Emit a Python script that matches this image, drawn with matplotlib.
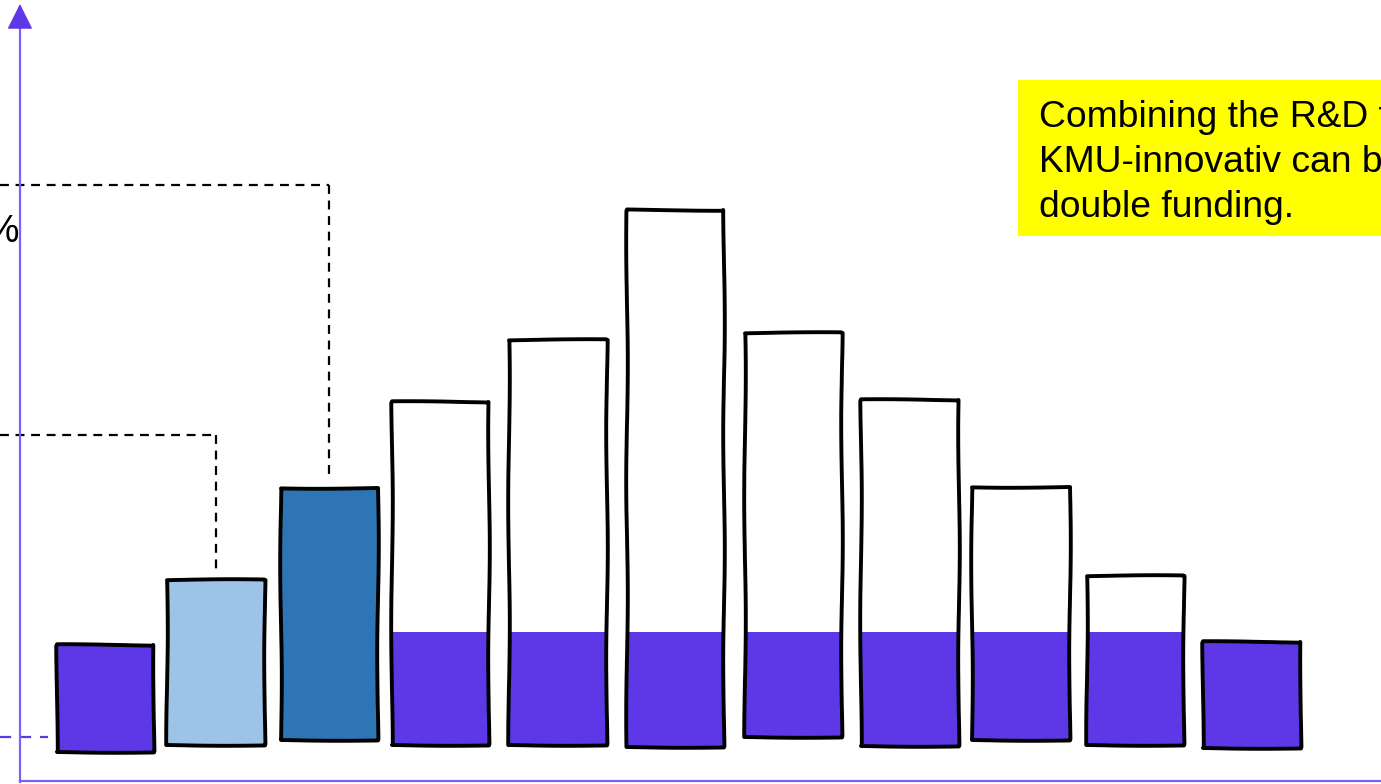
import matplotlib
matplotlib.use("Agg")
import matplotlib.pyplot as plt
from matplotlib.patches import Rectangle
import numpy as np

# ---- data (arbitrary units above the drawn baseline) ----
categories = list(range(11))
x_jitter = [0.0, -0.035, -0.048, -0.078, -0.052, -0.026, 0.0, 0.017, -0.013, -0.017, 0.0]
bar_tops = [100, 165, 257, 343, 405, 535, 412, 345, 258, 169, 103]
bar_bottoms = [-7, 0, 5, 0, 0, -2, 8, -1, 5, 0, -3]
fill_level = 113  # purple share inside the white bars
bar_kinds = ["full", "light", "dark", "split", "split", "split", "split",
             "split", "split", "split", "full"]
ref_levels = [560, 310]      # dashed guide levels
ref_bars = [2, 1]            # bars the guides drop to
percent_label = "%"
box_lines = ["Combining the R&D funding with",
             "KMU-innovativ can be considered",
             "double funding."]

PURPLE = "#5E38E6"
AXIS = "#7B61F5"
LIGHT = "#9DC3E6"
DARK = "#2E75B6"

W, H = 1381, 784
fig = plt.figure(figsize=(W / 100, H / 100), dpi=100)
ax = fig.add_axes([0, 0, 1, 1])
ax.set_xlim(-0.92, 11.125)
ax.set_ylim(-39, 745)
ax.axis("off")

def fx(px):
    return px / W

def fy(py):
    return 1 - py / H

x = np.array(categories, dtype=float) + np.array(x_jitter)
tops = np.array(bar_tops, dtype=float)
bots = np.array(bar_bottoms, dtype=float)
width = 0.85

face = [{"full": PURPLE, "light": LIGHT, "dark": DARK, "split": "white"}[k]
        for k in bar_kinds]

SK = dict(scale=0.8, length=260, randomness=2)

# base bars (fill)
fills = ax.bar(x, tops - bots, bottom=bots, width=width, color=face,
               edgecolor="none", zorder=2)
for r in fills:
    r.set_sketch_params(**SK)

# purple lower share inside split bars
split_idx = [i for i, k in enumerate(bar_kinds) if k == "split"]
band = ax.bar(x[split_idx], fill_level - bots[split_idx], bottom=bots[split_idx],
              width=width * 0.99, color=PURPLE, edgecolor="none", zorder=3)

# outlines with hand-drawn look (same path + same sketch as fill)
outl = ax.bar(x, tops - bots, bottom=bots, width=width, fill=False,
              edgecolor="black", linewidth=2.8, zorder=4)
for r in outl:
    r.set_joinstyle("round")
    r.set_sketch_params(**SK)

# dashed guides
for lvl, b in zip(ref_levels, ref_bars):
    ax.plot([-0.92, x[b]], [lvl, lvl], color="black", lw=1.6,
            ls=(0, (4, 3)), zorder=5)
    ax.plot([x[b], x[b]], [lvl, tops[b] + 8], color="black", lw=1.6,
            ls=(0, (4, 3)), zorder=5)

# purple dashed at left near baseline
ax.plot([-0.92, -0.5], [8, 8], color=PURPLE, lw=1.6, ls=(0, (5, 4)), zorder=5)

# axes lines
xaxis_x = -0.746
ax.plot([xaxis_x, 11.2], [-36, -36], color=AXIS, lw=1.6, zorder=6, clip_on=False)
ax.plot([xaxis_x, xaxis_x], [-37, 728], color=AXIS, lw=1.6, zorder=6)
ax.annotate("", xy=(xaxis_x, 741), xytext=(xaxis_x, 725),
            arrowprops=dict(arrowstyle="-|>,head_length=0.9,head_width=0.45",
                            color="#5E38E6", lw=1.0, shrinkA=0, shrinkB=0,
                            mutation_scale=18),
            zorder=7)

# percent label, clipped at the left edge
fig.text(fx(19), fy(242), percent_label, ha="right", va="baseline",
         fontsize=27, family="Liberation Sans", color="black")

# yellow note box
fig.patches.append(Rectangle((fx(1018), fy(236)), fx(W - 1018 + 20), fy(80) - fy(236),
                             transform=fig.transFigure, facecolor="#FFFF00",
                             edgecolor="none", zorder=1))
for i, line in enumerate(box_lines):
    fig.text(fx(1039), fy(127 + 45 * i), line, ha="left", va="baseline",
             fontsize=26.8, family="Liberation Sans", color="black", zorder=2)

fig.savefig("out.png", dpi=100)
